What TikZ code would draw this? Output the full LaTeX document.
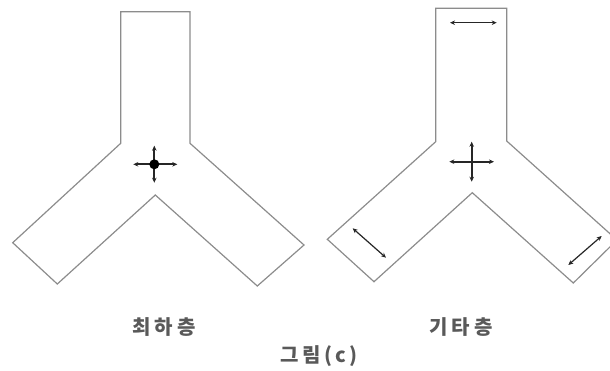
\documentclass[tikz,border=0pt]{standalone}
\usepackage{fontspec}
\newfontfamily\krfont[LetterSpace=20]{Noto Sans CJK KR}
\newfontfamily\krcap[LetterSpace=16]{Noto Sans CJK KR}
\usetikzlibrary{arrows.meta}

\begin{document}
\begin{tikzpicture}[
  x=1pt, y=-1pt,
  wall/.style={draw=black!45, line width=1.2pt, line join=miter},
  dbl/.style={{Stealth[length=5pt,width=4.5pt]}-{Stealth[length=5pt,width=4.5pt]}, line width=1.2pt, draw=black!85},
  cross/.style={dbl, line width=1.7pt},
  lbl/.style={font=\krfont\bfseries\fontsize{20pt}{22pt}\selectfont, text=black!65, inner sep=0pt},
]
\useasboundingbox (0,0) rectangle (610,370);
\draw[wall] (120.7,11.7) -- (190,11.7) -- (190,143.3) -- (304,245) -- (257.3,286)
  -- (155.3,195) -- (57.3,284) -- (12.7,242.7) -- (120.7,143.3) -- cycle;
\draw[wall] (435.7,8.3) -- (506.7,8.3) -- (506.7,141) -- (617,240) -- (573.3,283)
  -- (472.3,192.7) -- (374,281.7) -- (327.3,239.3) -- (435.7,141.7) -- cycle;
\coordinate (lc) at (154.3,164.3);
\coordinate (rc) at (471.7,161.7);
\draw[cross] (lc) ++(-21,0) -- ++(44,0);
\draw[cross] (lc) ++(0,-18.6) -- ++(0,37);
\fill[black] (lc) circle (5);
\draw[cross] (rc) ++(-22.4,0) -- ++(44.7,0);
\draw[cross] (rc) ++(0,-20) -- ++(0,40);
\draw[dbl] (450,22.7) -- (496.7,22.7);
\draw[dbl] (352.7,228.3) -- (386,257.7);
\draw[dbl] (568.3,265) -- (601.7,236);
\node[lbl] (lowest) at (164,327.5) {최하층};
\node[lbl] (other) at (461,327.5) {기타층};
\node[lbl, font=\krcap\bfseries\fontsize{20pt}{22pt}\selectfont] (caption) at (319,356) {그림(c)};
\end{tikzpicture}
\end{document}
